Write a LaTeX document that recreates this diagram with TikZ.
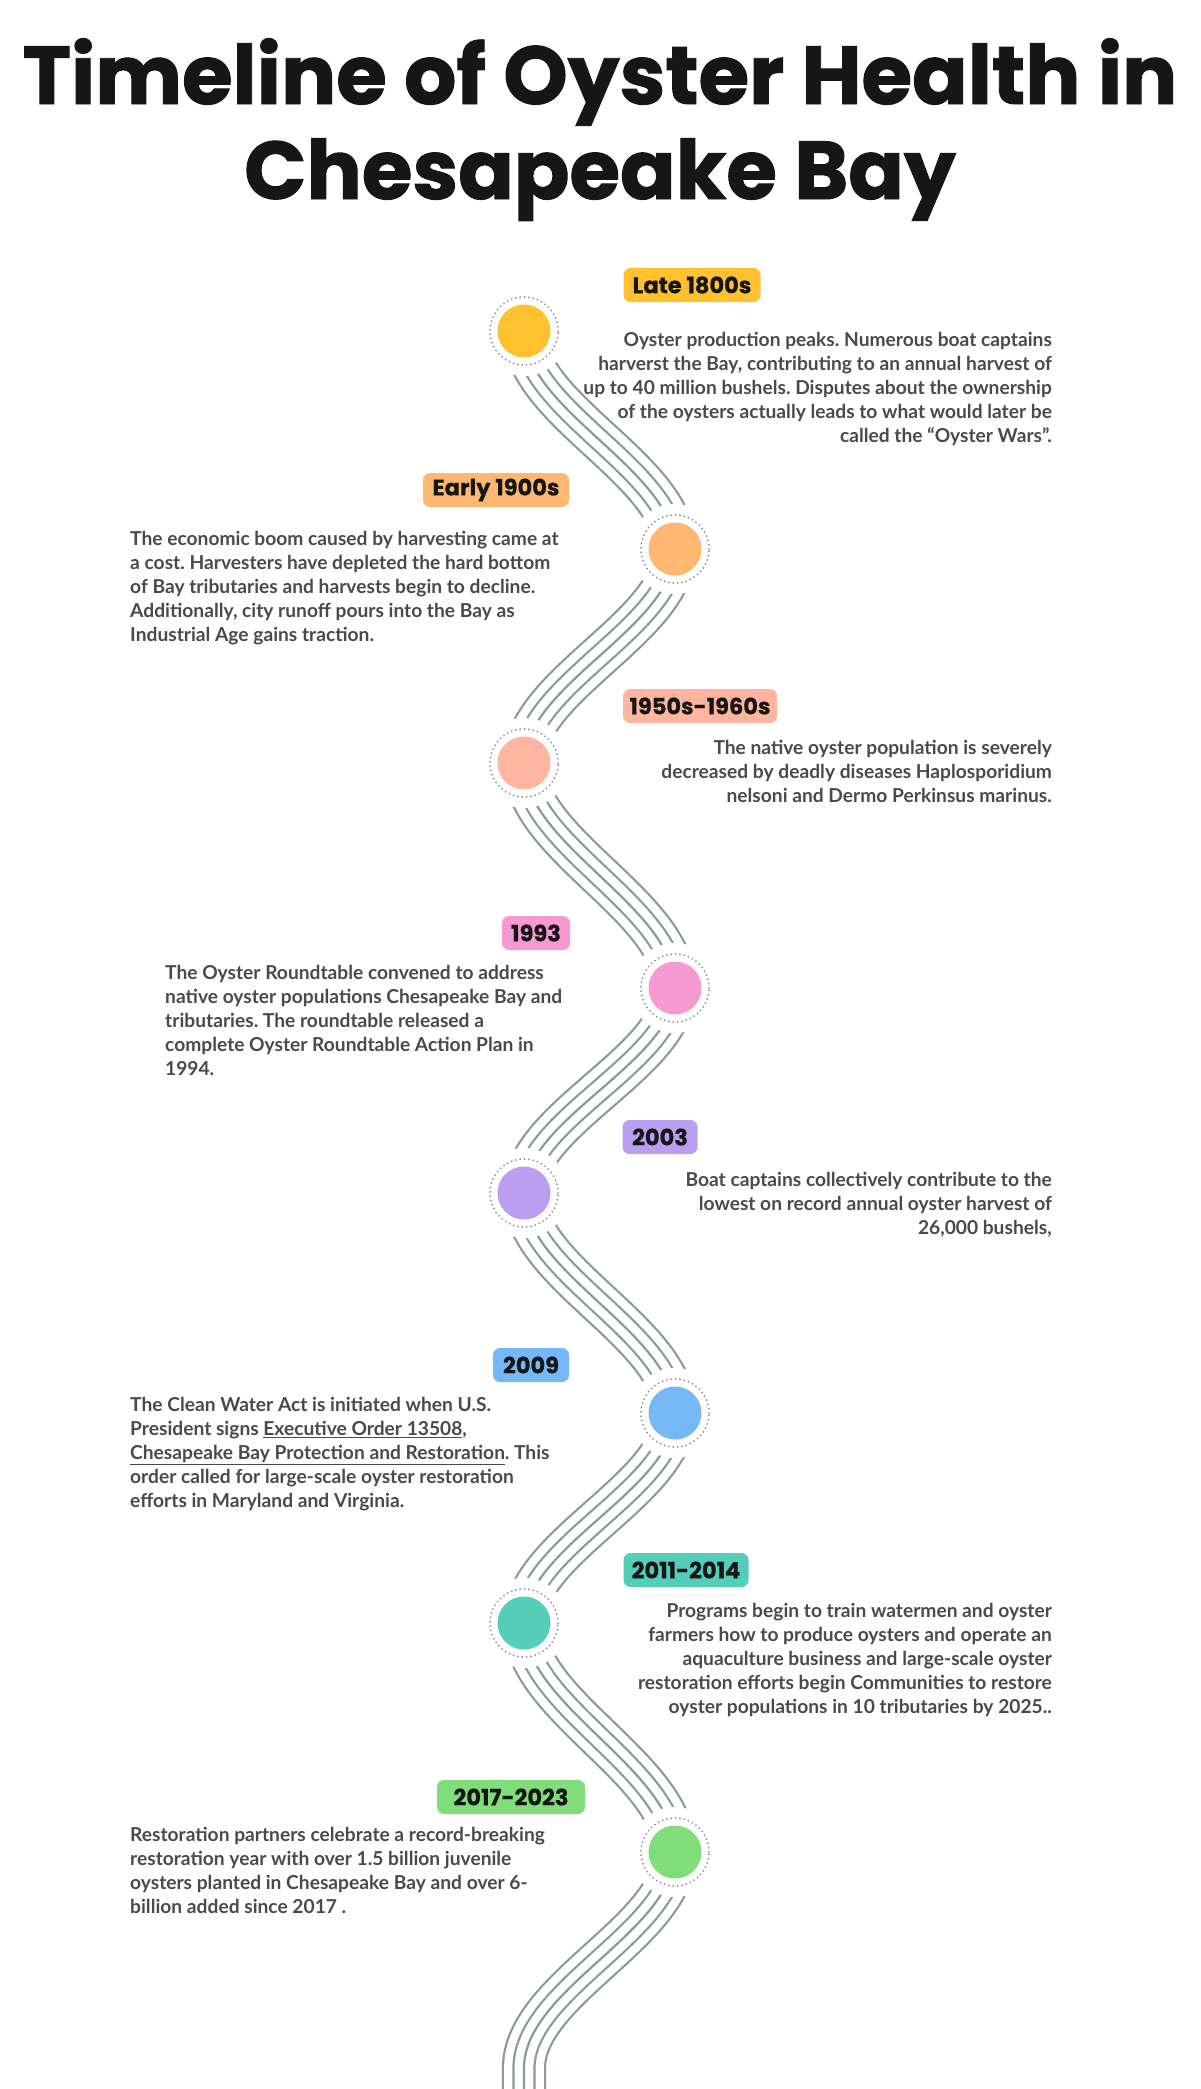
\documentclass[tikz,border=0pt]{standalone}
\usepackage{fontspec}
\setmainfont{Lato}
\newfontfamily\titlefont{Poppins}[BoldFeatures={FakeBold=1.2}]
\newfontfamily\labelfont{Poppins}[BoldFeatures={FakeBold=0.6}]
\definecolor{cyel}{HTML}{FFC12F}
\definecolor{corg}{HTML}{FFB871}
\definecolor{csal}{HTML}{FFB5A0}
\definecolor{cpnk}{HTML}{F799D3}
\definecolor{clav}{HTML}{BA9EF0}
\definecolor{cblu}{HTML}{74B8F8}
\definecolor{ctea}{HTML}{54CEB9}
\definecolor{cgrn}{HTML}{7FDE7A}
\definecolor{wavegray}{HTML}{8E969E}
\definecolor{ringgray}{HTML}{8A9199}
\definecolor{bodygray}{HTML}{4A4A4A}
\definecolor{titleblack}{HTML}{161616}
\begin{document}
\frenchspacing
\begin{tikzpicture}[x=1pt,y=-1pt,
  hole/.style={circle, fill=white, minimum size=90pt, inner sep=0pt},
  ring/.style={circle, draw=ringgray, line width=2pt, line cap=round, dash pattern=on 0pt off 4.4pt, minimum size=68pt, inner sep=0pt},
  bullet/.style={circle, minimum size=53pt, inner sep=0pt},
  lbl/.style={rounded corners=7pt, minimum height=34pt, inner sep=0pt, text=titleblack,
    font=\labelfont\bfseries\fontsize{22.5}{22.5}\selectfont},
  body/.style={inner sep=0pt, text=bodygray, font=\bfseries\fontsize{19.2}{24}\selectfont},
  bodyr/.style={body, align=right, anchor=north east},
  bodyl/.style={body, align=left, anchor=north west},
  ttl/.style={inner sep=0pt, text=titleblack, font=\titlefont\bfseries\fontsize{82}{82}\selectfont, anchor=base}
]
\useasboundingbox (0,0) rectangle (1200,2089);
\clip (0,0) rectangle (1200,2089);
\fill[white] (0,0) rectangle (1200,2089);

% title
\node[ttl] (title1) at (600,104) {Timeline of Oyster Health in};
\node[ttl] (title2) at (600,199) {Chesapeake Bay};

% peak coordinates
\coordinate (p1) at (524,331);
\coordinate (p2) at (675,549);
\coordinate (p3) at (524,763);
\coordinate (p4) at (675,988);
\coordinate (p5) at (524,1193);
\coordinate (p6) at (675,1413);
\coordinate (p7) at (524,1623);
\coordinate (p8) at (675,1852);
\coordinate (p9) at (524,2068);

% wave bundle
\path[save path=\wavepath]
  (p1) .. controls +(0,79) and +(0,-79) .. (p2)
       .. controls +(0,78) and +(0,-78) .. (p3)
       .. controls +(0,82) and +(0,-82) .. (p4)
       .. controls +(0,74) and +(0,-74) .. (p5)
       .. controls +(0,80) and +(0,-80) .. (p6)
       .. controls +(0,76) and +(0,-76) .. (p7)
       .. controls +(0,83) and +(0,-83) .. (p8)
       .. controls +(0,79) and +(0,-79) .. (p9)
       -- ++(0,80);
\draw[use path=\wavepath, line width=44.2pt, draw=wavegray];
\draw[use path=\wavepath, line width=39.8pt, draw=white];
\draw[use path=\wavepath, line width=23.2pt, draw=wavegray];
\draw[use path=\wavepath, line width=18.8pt, draw=white];
\draw[use path=\wavepath, line width=2.2pt, draw=wavegray];

% circles
\foreach \i/\c in {1/cyel,2/corg,3/csal,4/cpnk,5/clav,6/cblu,7/ctea,8/cgrn}{
  \node[hole] (h\i) at (p\i) {};
  \node[ring] (r\i) at (p\i) {};
  \node[bullet, fill=\c] (c\i) at (p\i) {};
}

% labels
\node[lbl, fill=cyel, minimum width=137pt] (l1) at (692,285) {Late 1800s};
\node[lbl, fill=corg, minimum width=146pt] (l2) at (496,490) {Early 1900s};
\node[lbl, fill=csal, minimum width=154pt] (l3) at (700,706) {1950s-1960s};
\node[lbl, fill=cpnk, minimum width=68pt] (l4) at (536,933) {1993};
\node[lbl, fill=clav, minimum width=75pt] (l5) at (660,1137) {2003};
\node[lbl, fill=cblu, minimum width=76pt] (l6) at (531,1365) {2009};
\node[lbl, fill=ctea, minimum width=125pt] (l7) at (686,1570) {2011-2014};
\node[lbl, fill=cgrn, minimum width=148pt] (l8) at (511,1797) {2017-2023};

% texts
\node[bodyr] (t1) at (1052,332.5) {Oyster production peaks. Numerous boat captains\\
harverst the Bay, contributing to an annual harvest of\\
up to 40 million bushels. Disputes about the ownership\\
of the oysters actually leads to what would later be\\
called the “Oyster Wars”.};
\node[bodyl] (t2) at (130,531.5) {The economic boom caused by harvesting came at\\
a cost. Harvesters have depleted the hard bottom\\
of Bay tributaries and harvests begin to decline.\\
Additionally, city runoff pours into the Bay as\\
Industrial Age gains traction.};
\node[bodyr] (t3) at (1052,740.5) {The native oyster population is severely\\
decreased by deadly diseases Haplosporidium\\
nelsoni and Dermo Perkinsus marinus.};
\node[bodyl] (t4) at (165,965.5) {The Oyster Roundtable convened to address\\
native oyster populations Chesapeake Bay and\\
tributaries. The roundtable released a\\
complete Oyster Roundtable Action Plan in\\
1994.};
\node[bodyr] (t5) at (1052,1172.5) {Boat captains collectively contribute to the\\
lowest on record annual oyster harvest of\\
26,000 bushels,};
\node[bodyl] (t6) at (130,1397.5) {The Clean Water Act is initiated when U.S.\\
President signs \underline{Executive Order 13508},\\
\underline{Chesapeake Bay Protection and Restoration}. This\\
order called for large-scale oyster restoration\\
efforts in Maryland and Virginia.};
\node[bodyr] (t7) at (1052,1603.5) {Programs begin to train watermen and oyster\\
farmers how to produce oysters and operate an\\
aquaculture business and large-scale oyster\\
restoration efforts begin Communities to restore\\
oyster populations in 10 tributaries by 2025..};
\node[bodyl] (t8) at (130,1827.5) {Restoration partners celebrate a record-breaking\\
restoration year with over 1.5 billion juvenile\\
oysters planted in Chesapeake Bay and over 6-\\
billion added since 2017 .};
\end{tikzpicture}
\end{document}
